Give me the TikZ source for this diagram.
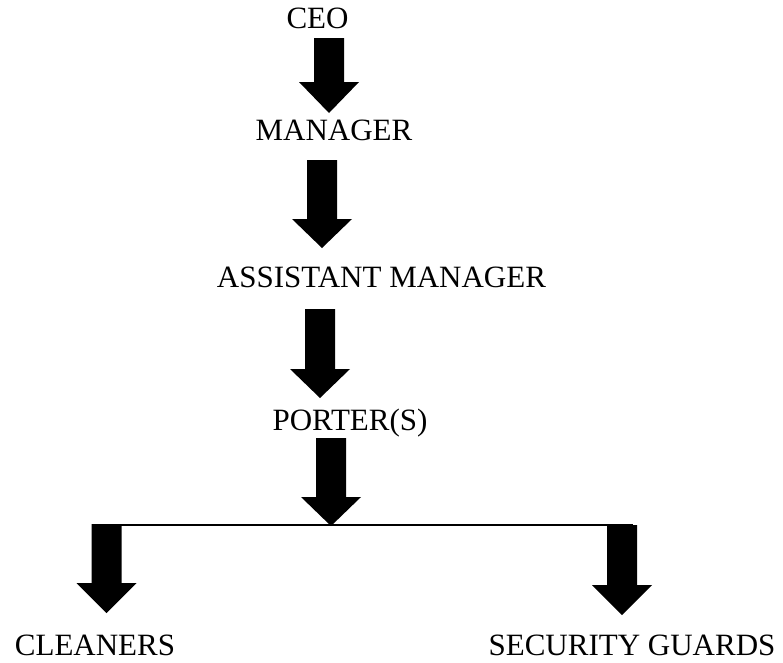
\documentclass[tikz,border=0pt]{standalone}
\usepackage{fontspec}
\setmainfont{Liberation Serif}
\usetikzlibrary{calc}

% Solid downward block arrow: #1 = x of axis, #2 = top of shaft,
% #3 = where the head begins, #4 = y of the tip
\newcommand{\blockdown}[4]{%
  \fill[black] (#1-15,#2) -- (#1+15,#2) -- (#1+15,#3) -- (#1+30,#3)
    -- (#1,#4) -- (#1-30,#3) -- (#1-15,#3) -- cycle;}

\begin{document}
\begin{tikzpicture}[x=1pt,y=-1pt,
  rank/.style={anchor=base,inner sep=0pt,font=\fontsize{31}{36}\selectfont}]
  \useasboundingbox (0,0) rectangle (783,662);

  % job titles
  \node[rank] (ceo)      at (317.5,28)  {CEO};
  \node[rank] (manager)  at (334,140)   {MANAGER};
  \node[rank] (assist)   at (381.5,287) {ASSISTANT MANAGER};
  \node[rank] (porter)   at (350,430)   {PORTER(S)};
  \node[rank] (cleaners) at (95,655)    {CLEANERS};
  \node[rank] (guards)   at (632,655)   {SECURITY GUARDS};

  % chain of command
  \blockdown{329}{38}{82}{113}
  \blockdown{322}{160}{219}{248}
  \blockdown{320}{309}{369}{398}
  \blockdown{331}{438}{497}{526}

  % split bar below the porters
  \coordinate (barL) at (92,524.5);
  \coordinate (barR) at (633,524.5);
  \draw[line width=2pt] (barL) -- (barR);

  % branches to the two teams
  \blockdown{106.5}{524}{583}{613}
  \blockdown{622}{525}{585}{615}
\end{tikzpicture}
\end{document}
